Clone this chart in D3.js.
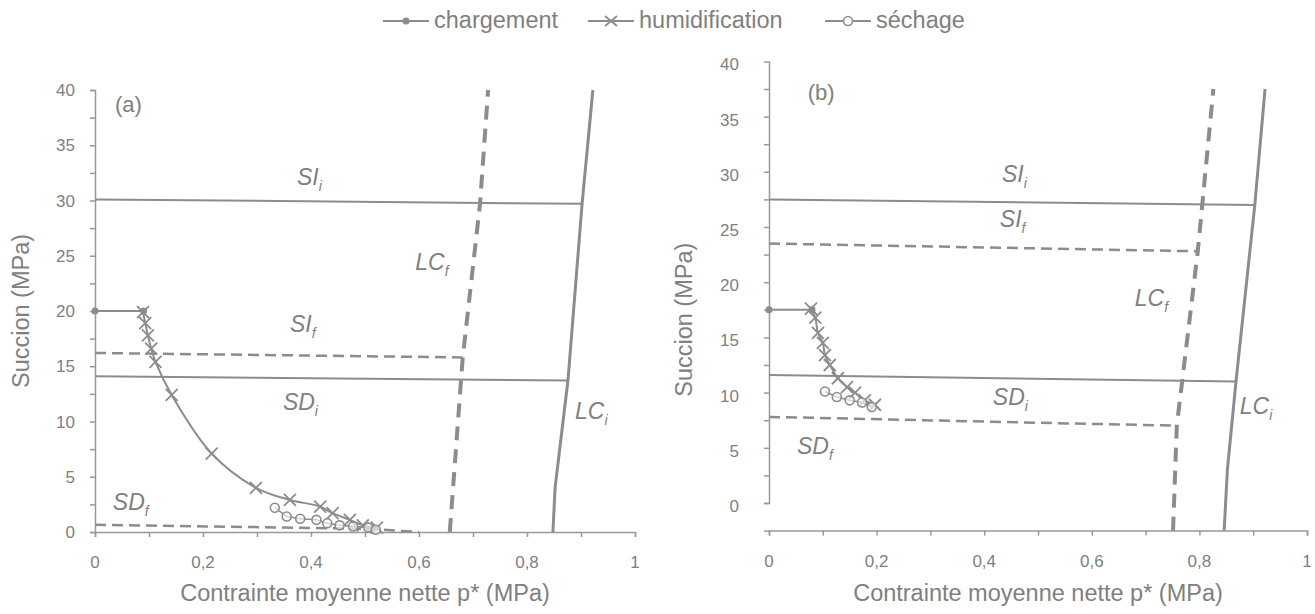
<!DOCTYPE html>
<html>
<head>
<meta charset="utf-8">
<script src="https://cdn.jsdelivr.net/npm/d3@7"></script>
<style>
  body { margin: 0; background: #fff; }
  svg text { font-family: "Liberation Sans", Arial, sans-serif; fill: #808080; }
</style>
</head>
<body>
<svg id="chart" width="1315" height="614"></svg>
<script>
// ---- data, panel (a) ----
var a_chargement = [[0, 20], [0.09, 20]];
var a_humidification = [[0.089, 19.9], [0.093, 18.9], [0.098, 17.8], [0.104, 16.6], [0.112, 15.4],
    [0.142, 12.4], [0.216, 7.1], [0.298, 4.0], [0.361, 2.9], [0.417, 2.3], [0.44, 1.7],
    [0.472, 1.1], [0.496, 0.6], [0.522, 0.4]];
var a_sechage = [[0.333, 2.2], [0.355, 1.4], [0.38, 1.2], [0.41, 1.1], [0.43, 0.8],
    [0.453, 0.6], [0.478, 0.5], [0.506, 0.4], [0.52, 0.2]];
var a_SIi = [[0, 30.1], [0.902, 29.7]];
var a_SIf = [[0, 16.2], [0.681, 15.8]];
var a_SDi = [[0, 14.1], [0.876, 13.7]];
var a_SDf = [[0, 0.65], [0.5, 0.3], [0.6, 0]];
var a_LCi = [[0.848, 0], [0.852, 4], [0.876, 13.8], [0.902, 29.7], [0.922, 40]];
var a_LCf = [[0.657, 0], [0.681, 15.8], [0.713, 29.7], [0.728, 40]];

// ---- data, panel (b) ----
var b_chargement = [[0, 17.5], [0.08, 17.5]];
var b_humidification = [[0.078, 17.6], [0.086, 16.8], [0.091, 15.4], [0.1, 14.5], [0.104, 13.4],
    [0.113, 12.5], [0.128, 11.3], [0.145, 10.5], [0.16, 10.0], [0.178, 9.3], [0.197, 8.9]];
var b_sechage = [[0.104, 10.1], [0.126, 9.6], [0.15, 9.3], [0.173, 9.1], [0.191, 8.7]];
var b_SIi = [[0, 27.5], [0.903, 27.0]];
var b_SIf = [[0, 23.5], [0.797, 22.8]];
var b_SDi = [[0, 11.6], [0.868, 11.0]];
var b_SDf = [[0, 7.8], [0.758, 7.0]];
var b_LCi = [[0.846, -2.5], [0.852, 3], [0.868, 11], [0.903, 27], [0.922, 37.5]];
var b_LCf = [[0.751, -2.5], [0.758, 7.0], [0.797, 22.8], [0.826, 37.5]];

var xTicks = [0, 0.2, 0.4, 0.6, 0.8, 1];
var yTicks = [0, 5, 10, 15, 20, 25, 30, 35, 40];
var legendNames = ["chargement", "humidification", "séchage"];

var grey = "#8c8c8c";
var svg = d3.select("#chart");
var fmt = function(d) { return String(d).replace(".", ","); };

function drawPanel(p) {
    var x = d3.scaleLinear().domain([0, 1]).range(p.xr);
    var y = d3.scaleLinear().domain([0, 40]).range(p.yr);
    var g = svg.append("g");
    var line = d3.line().x(d => x(d[0])).y(d => y(d[1]));

    // axes
    var xAxis = d3.axisBottom(x).tickValues(d3.range(0, 1.01, 0.1)).tickSize(5).tickFormat("");
    g.append("g").attr("transform", "translate(0," + y(p.ymin) + ")").call(xAxis)
        .call(s => s.selectAll("line,path").attr("stroke", "#999").attr("stroke-width", 1.5));
    g.selectAll(".xl").data(xTicks).enter().append("text")
        .attr("x", d => x(d)).attr("y", y(p.ymin) + 36)
        .attr("text-anchor", "middle").attr("font-size", 17).text(fmt);

    var yAxis = d3.axisLeft(y).tickValues(d3.range(p.ymin, p.ymax + 0.1, 2.5)).tickSize(5).tickFormat("");
    g.append("g").attr("transform", "translate(" + x(0) + ",0)").call(yAxis)
        .call(s => s.selectAll("line,path").attr("stroke", "#999").attr("stroke-width", 1.5));
    g.selectAll(".yl").data(yTicks).enter().append("text")
        .attr("x", x(0) - p.labGap).attr("y", d => y(d) + 6 + p.labShift)
        .attr("text-anchor", "end").attr("font-size", 17).text(d => d);

    g.append("text").attr("transform", "translate(" + (x(0) - p.titleGap) + "," + y(p.titleY) + ") rotate(-90)")
        .attr("text-anchor", "middle").attr("font-size", 23.5).text("Succion (MPa)");
    g.append("text").attr("x", x(0.5)).attr("y", 601)
        .attr("text-anchor", "middle").attr("font-size", 23.5).text("Contrainte moyenne nette p* (MPa)");

    // state surfaces
    function path(d, w, dash) {
        g.append("path").datum(d).attr("d", line).attr("fill", "none")
            .attr("stroke", grey).attr("stroke-width", w).attr("stroke-dasharray", dash);
    }
    path(p.SIi, 2, null);
    path(p.SDi, 2, null);
    path(p.SIf, 2.5, "11,6");
    path(p.SDf, 2.5, "11,6");
    path(p.LCi, 3, null);
    path(p.LCf, 4, "14,9");

    // loading path
    g.append("path").datum(p.charg).attr("d", line).attr("fill", "none").attr("stroke", grey).attr("stroke-width", 2);
    g.selectAll(".ch").data(p.charg).enter().append("circle")
        .attr("cx", d => x(d[0])).attr("cy", d => y(d[1])).attr("r", 3.5).attr("fill", grey);

    g.append("path").datum(p.hum).attr("d", line.curve(d3.curveCatmullRom)).attr("fill", "none")
        .attr("stroke", grey).attr("stroke-width", 2);
    line.curve(d3.curveLinear);
    g.selectAll(".hu").data(p.hum).enter().append("path")
        .attr("transform", d => "translate(" + x(d[0]) + "," + y(d[1]) + ")")
        .attr("d", "M-6,-6L6,6M-6,6L6,-6").attr("stroke", grey).attr("stroke-width", 1.8);

    g.append("path").datum(p.sech).attr("d", line).attr("fill", "none").attr("stroke", grey).attr("stroke-width", 1.5);
    g.selectAll(".se").data(p.sech).enter().append("circle")
        .attr("cx", d => x(d[0])).attr("cy", d => y(d[1])).attr("r", 4.5)
        .attr("fill", "#fff").attr("fill-opacity", 0.6).attr("stroke", grey).attr("stroke-width", 1.6);

    // labels
    g.append("text").attr("x", x(p.tag[0])).attr("y", y(p.tag[1])).attr("font-size", 22).text(p.name);
    p.labels.forEach(function(l) {
        var t = g.append("text").attr("x", x(l[2])).attr("y", y(l[3]))
            .attr("font-size", 23).attr("font-style", "italic");
        t.append("tspan").text(l[0]);
        t.append("tspan").attr("dy", 6).attr("font-size", 14).text(l[1]);
    });
}

drawPanel({
    xr: [95, 635], yr: [532, 90], ymin: 0, ymax: 40, labShift: 0, labGap: 20, titleGap: 66, titleY: 20,
    SIi: a_SIi, SIf: a_SIf, SDi: a_SDi, SDf: a_SDf, LCi: a_LCi, LCf: a_LCf,
    charg: a_chargement, hum: a_humidification, sech: a_sechage,
    name: "(a)", tag: [0.037, 38.0],
    labels: [["SI", "i", 0.374, 31.4], ["SI", "f", 0.361, 18.1], ["SD", "i", 0.348, 11.0],
             ["SD", "f", 0.033, 2.0], ["LC", "f", 0.593, 23.7], ["LC", "i", 0.889, 10.2]]
});

drawPanel({
    xr: [769, 1307], yr: [503, 61.4], ymin: -2.5, ymax: 37.5, labShift: 3, labGap: 30, titleGap: 77, titleY: 16.6,
    SIi: b_SIi, SIf: b_SIf, SDi: b_SDi, SDf: b_SDf, LCi: b_LCi, LCf: b_LCf,
    charg: b_chargement, hum: b_humidification, sech: b_sechage,
    name: "(b)", tag: [0.072, 36.5],
    labels: [["SI", "i", 0.433, 29.1], ["SI", "f", 0.429, 25.0], ["SD", "i", 0.416, 8.9],
             ["SD", "f", 0.052, 4.4], ["LC", "f", 0.68, 17.8], ["LC", "i", 0.875, 8.1]]
});

// legend
var lx = [383, 588, 825];
var lg = svg.append("g");
legendNames.forEach(function(n, i) {
    var x0 = lx[i];
    lg.append("line").attr("x1", x0).attr("x2", x0 + 46).attr("y1", 21).attr("y2", 21)
        .attr("stroke", grey).attr("stroke-width", 2);
    var cx = x0 + 23;
    if (i === 0) {
        lg.append("circle").attr("cx", cx).attr("cy", 21).attr("r", 3.5).attr("fill", grey);
    } else if (i === 1) {
        lg.append("path").attr("transform", "translate(" + cx + ",21)")
            .attr("d", "M-6,-5L6,5M-6,5L6,-5").attr("stroke", grey).attr("stroke-width", 1.8);
    } else {
        lg.append("circle").attr("cx", cx).attr("cy", 21).attr("r", 4.5)
            .attr("fill", "#fff").attr("stroke", grey).attr("stroke-width", 1.6);
    }
    lg.append("text").attr("x", x0 + 51).attr("y", 28).attr("font-size", 23.5).text(n);
});
</script>
</body>
</html>
